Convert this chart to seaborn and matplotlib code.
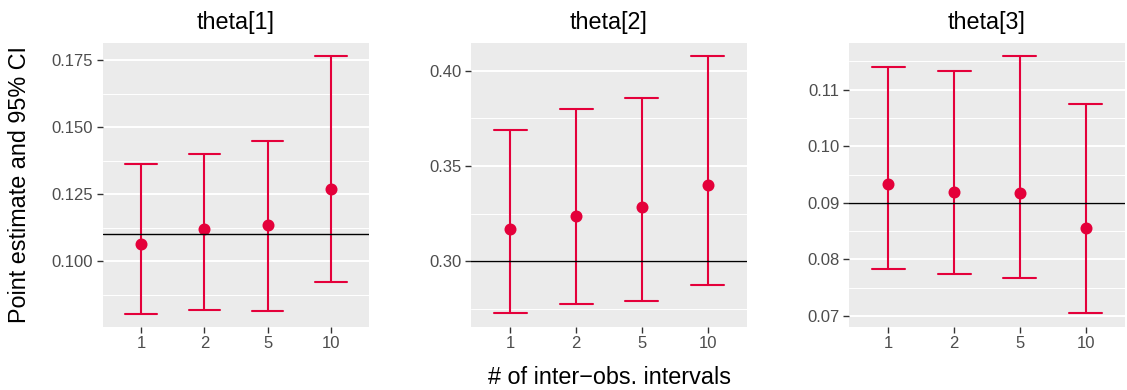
import numpy as np
import pandas as pd
import matplotlib
matplotlib.use("Agg")
import matplotlib.pyplot as plt
import seaborn as sns

# ---- data ----
intervals = ["1", "2", "5", "10"]
params = ["theta[1]", "theta[2]", "theta[3]"]
true_values = [0.11, 0.30, 0.09]

theta1_est = [0.1063, 0.1119, 0.1135, 0.1271]
theta1_lo = [0.0804, 0.0819, 0.0812, 0.0922]
theta1_hi = [0.1363, 0.1401, 0.1449, 0.1765]

theta2_est = [0.3170, 0.3238, 0.3285, 0.3402]
theta2_lo = [0.2725, 0.2774, 0.2792, 0.2874]
theta2_hi = [0.3688, 0.3798, 0.3858, 0.4077]

theta3_est = [0.09335, 0.09189, 0.09165, 0.08559]
theta3_lo = [0.07823, 0.07747, 0.07676, 0.07046]
theta3_hi = [0.11406, 0.11329, 0.11588, 0.10747]

y_ticks = [
    [0.100, 0.125, 0.150, 0.175],
    [0.30, 0.35, 0.40],
    [0.07, 0.08, 0.09, 0.10, 0.11],
]
y_tick_labels = [
    ["0.100", "0.125", "0.150", "0.175"],
    ["0.30", "0.35", "0.40"],
    ["0.07", "0.08", "0.09", "0.10", "0.11"],
]
y_minor = [
    [0.0875, 0.1125, 0.1375, 0.1625],
    [0.275, 0.325, 0.375],
    [0.075, 0.085, 0.095, 0.105, 0.115],
]
y_limits = [(0.0755, 0.1815), (0.2655, 0.4147), (0.06812, 0.11823)]

ests = [theta1_est, theta2_est, theta3_est]
los = [theta1_lo, theta2_lo, theta3_lo]
his = [theta1_hi, theta2_hi, theta3_hi]

RED = "#E4003A"
GRID_BG = "#EBEBEB"

sns.set_theme(style="white")
plt.rcParams["font.family"] = ["Liberation Sans", "DejaVu Sans"]

W, H = 1127, 390
fig = plt.figure(figsize=(W / 100, H / 100), dpi=100)

# panel rectangles in pixels (left, right)
panel_px = [(103, 369), (471, 747), (849, 1125)]
top_px, bot_px = 43, 326.7

for i, p in enumerate(params):
    l, r = panel_px[i]
    ax = fig.add_axes([l / W, (H - bot_px) / H, (r - l) / W, (bot_px - top_px) / H])
    ax.set_facecolor(GRID_BG)
    for s in ax.spines.values():
        s.set_visible(False)

    # long frame: three values per category (lo, est, hi) ->
    # median = estimate, 100% percentile interval = CI
    rows = []
    for k, cat in enumerate(intervals):
        for v in (los[i][k], ests[i][k], his[i][k]):
            rows.append({"intervals": cat, "value": v})
    df = pd.DataFrame(rows)

    sns.pointplot(
        data=df, x="intervals", y="value", order=intervals,
        estimator=np.median, errorbar=("pi", 100), capsize=0.5,
        linestyle="none", color=RED, markersize=6.6,
        err_kws={"linewidth": 1.5}, ax=ax,
    )
    ax.axhline(true_values[i], color="black", lw=1.0, zorder=5)

    ax.set_xlim(-0.6, 3.6)
    ax.set_ylim(*y_limits[i])
    ax.set_yticks(y_ticks[i])
    ax.set_yticklabels(y_tick_labels[i])
    ax.set_yticks(y_minor[i], minor=True)

    ax.grid(False)
    ax.yaxis.grid(True, which="major", color="white", lw=1.4)
    ax.yaxis.grid(True, which="minor", color="white", lw=0.7)
    ax.set_axisbelow(True)

    ax.tick_params(axis="both", which="major", length=4, width=1.0,
                   color="#333333", labelcolor="#4D4D4D", labelsize=12, pad=3,
                   bottom=True, left=True)
    ax.tick_params(axis="y", which="minor", length=0, left=False)
    ax.set_xlabel("")
    ax.set_ylabel("")
    ax.set_title(p, fontsize=16.8, color="black", pad=10)

fig.text(20 / W, 0.5 * ((H - bot_px) / H + (H - top_px) / H), "Point estimate and 95% CI",
         rotation=90, ha="center", va="center", fontsize=16.8, color="black")
fig.text(609 / W, 1 - 377 / H, "# of inter\u2212obs. intervals",
         ha="center", va="center", fontsize=16.8, color="black")

fig.savefig("out.png", dpi=100)
